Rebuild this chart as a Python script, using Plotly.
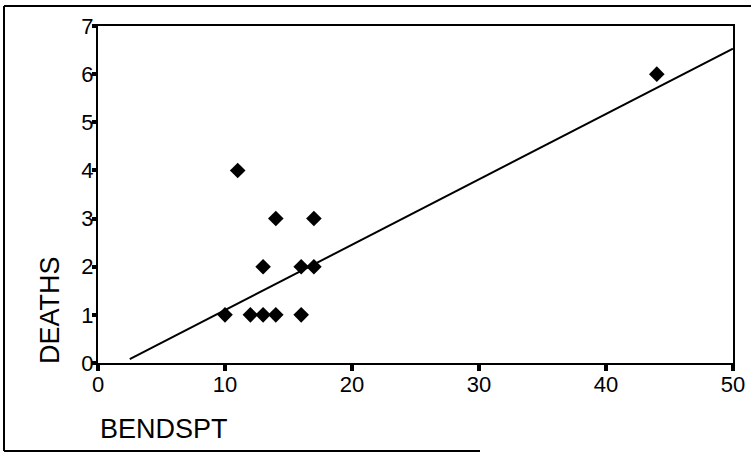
import plotly.graph_objects as go

# Data
bendspt = [10, 11, 12, 13, 13, 14, 14, 16, 16, 17, 17, 44]
deaths = [1, 4, 1, 1, 2, 1, 3, 1, 2, 2, 3, 6]

# Fitted line endpoints (as drawn in the reference)
fit_x = [2.5, 50]
fit_y = [0.08, 6.53]

x_ticks = [0, 10, 20, 30, 40, 50]
y_ticks = [0, 1, 2, 3, 4, 5, 6, 7]

W, H = 751, 453
L, R, T, B = 98, 733, 26, 363

def px(xp):
    return (xp - L) / (R - L)

def py(yp):
    return (B - yp) / (B - T)

fig = go.Figure()
fig.add_trace(go.Scatter(x=fit_x, y=fit_y, mode="lines",
                         line=dict(color="black", width=2), hoverinfo="skip"))
fig.add_trace(go.Scatter(x=bendspt, y=deaths, mode="markers",
                         marker=dict(symbol="diamond", size=12, color="black")))

font = "Liberation Sans, Arial, sans-serif"

fig.update_layout(
    width=W, height=H,
    margin=dict(l=L, r=W - R, t=T, b=H - B),
    paper_bgcolor="white", plot_bgcolor="white",
    showlegend=False,
    xaxis=dict(range=[0, 50], tickvals=x_ticks, ticks="outside", ticklen=6, tickwidth=4,
               tickcolor="black", showline=True, linecolor="black", linewidth=2, mirror=True,
               showgrid=False, zeroline=False, automargin=False, ticklabelstandoff=-5,
               tickfont=dict(family=font, size=22, color="black")),
    yaxis=dict(range=[0, 7], tickvals=y_ticks, ticks="outside", ticklen=4, tickwidth=4,
               tickcolor="black", showline=True, linecolor="black", linewidth=2, mirror=True,
               showgrid=False, zeroline=False, automargin=False, ticklabelstandoff=-6,
               tickfont=dict(family=font, size=22, color="black")),
    annotations=[
        dict(text="BENDSPT", xref="paper", yref="paper", x=px(98), y=py(446),
             xanchor="left", yanchor="bottom", showarrow=False,
             font=dict(family=font, size=27, color="black")),
        dict(text="DEATHS", xref="paper", yref="paper", x=px(50), y=py(310),
             xanchor="center", yanchor="middle", textangle=-90, showarrow=False,
             font=dict(family=font, size=27, color="black")),
    ],
    shapes=[
        dict(type="line", xref="paper", yref="paper", x0=px(4), x1=px(751), y0=py(6), y1=py(6),
             line=dict(color="black", width=2)),
        dict(type="line", xref="paper", yref="paper", x0=px(4), x1=px(4), y0=py(6), y1=py(451),
             line=dict(color="black", width=2)),
        dict(type="line", xref="paper", yref="paper", x0=px(4), x1=px(480), y0=py(451), y1=py(451),
             line=dict(color="black", width=2)),
    ],
)

fig.write_html("out.html", config={"displayModeBar": False},
               post_script="document.body.style.margin='0px';document.body.style.overflow='hidden';")
